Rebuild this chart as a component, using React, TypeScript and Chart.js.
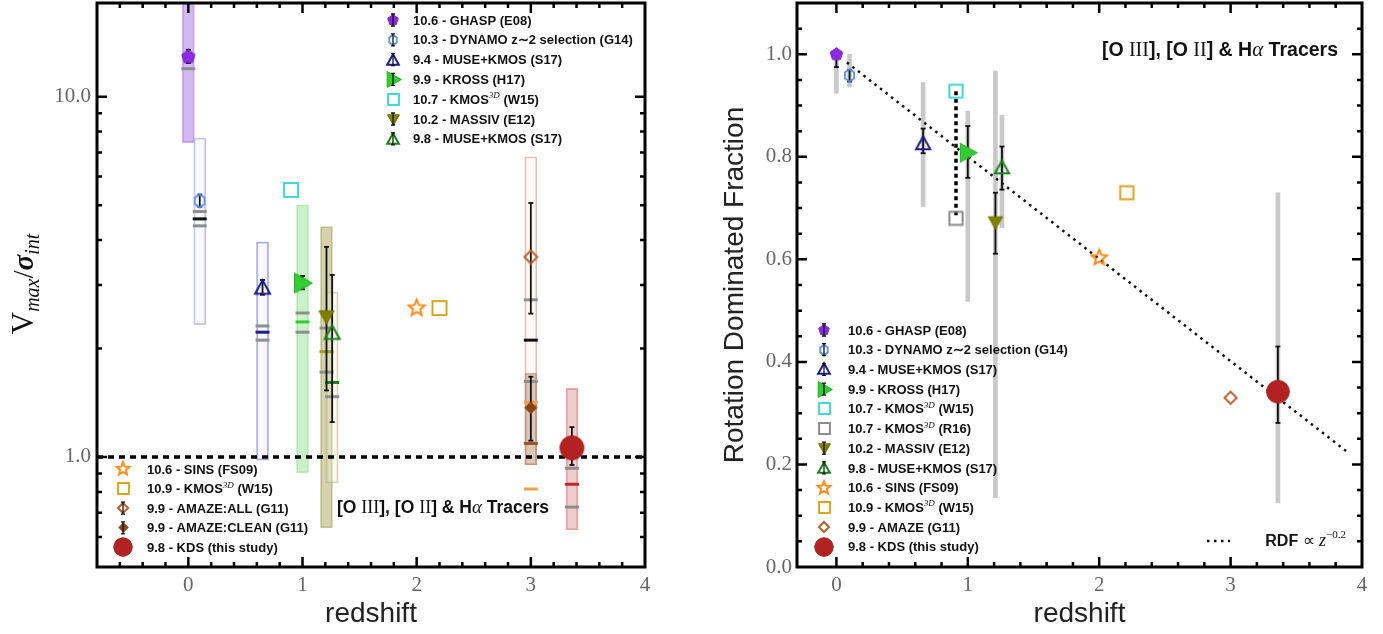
import React, { useEffect, useRef } from 'react';
import { Chart, registerables } from 'chart.js';

Chart.register(...registerables);

// ================= LEFT PANEL DATA : Vmax / sigma_int vs redshift =================
const leftPointKeys = ['GHASP', 'DYNAMO', 'MUSE94', 'KROSS', 'KMOS107', 'MASSIV', 'MUSE98', 'SINS', 'KMOS109', 'AMAZEALL', 'AMAZECLEAN', 'KDS'];
const leftPointZ = [0, 0.1, 0.65, 1.0, 0.9, 1.21, 1.26, 2.0, 2.2, 3.0, 3.0, 3.36];
const leftPointV = [12.9, 5.14, 2.95, 3.04, 5.51, 2.45, 2.21, 2.59, 2.59, 3.59, 1.37, 1.06];

const leftBandKeys = ['GHASP', 'DYNAMO', 'MUSE94', 'KROSS', 'MASSIV', 'MUSE98', 'AMAZEALL', 'AMAZECLEAN', 'KDS'];
const leftBandZ = [0, 0.1, 0.65, 1.0, 1.21, 1.26, 3.0, 3.0, 3.36];
const leftBandLo = [7.45, 2.33, 0.98, 0.903, 0.635, 0.847, 0.95, 0.95, 0.627];
const leftBandHi = [30, 7.68, 3.95, 5.01, 4.36, 2.87, 6.81, 1.71, 1.55];

const leftErrZ = [0, 0.1, 0.65, 1.0, 1.21, 1.26, 3.0, 3.0, 3.36];
const leftErrLo = [12.4, 4.95, 2.82, 2.92, 1.53, 1.25, 2.5, 1.11, 0.95];
const leftErrHi = [13.5, 5.35, 3.1, 3.18, 3.83, 3.2, 5.07, 1.67, 1.21];

const leftDashZ = [0, 0.1, 0.1, 0.1, 0.65, 0.65, 0.65, 1.0, 1.0, 1.0, 1.21, 1.21, 1.21, 1.26, 1.26, 3.0, 3.0, 3.0, 3.0, 3.0, 3.0, 3.36, 3.36, 3.36];
const leftDashV = [11.96, 4.8, 4.58, 4.38, 2.31, 2.22, 2.11, 2.51, 2.37, 2.22, 2.28, 1.96, 1.72, 1.61, 1.47, 2.73, 2.11, 1.62, 1.42, 1.09, 0.815, 0.93, 0.84, 0.726];
const leftDashKind = ['gray', 'gray', 'black', 'gray', 'gray', 'navy', 'gray', 'gray', 'green', 'gray', 'gray', 'olive', 'gray', 'dkgreen', 'gray', 'gray', 'black', 'gray', 'orange', 'brown', 'orange', 'gray', 'red', 'gray'];

const leftRefLineZ = [-0.8, 4];
const leftRefLineV = [1, 1];

const leftYTicks = [0.5, 0.6, 0.7, 0.8, 0.9, 1, 2, 3, 4, 5, 6, 7, 8, 9, 10];
const leftYTickLabels: Record<string, string> = { '1': '1.0', '10': '10.0' };

const leftLegendTopKeys = ['GHASP', 'DYNAMO', 'MUSE94', 'KROSS', 'KMOS107', 'MASSIV', 'MUSE98'];
const leftLegendTopLabels = ['10.6 - GHASP (E08)', '10.3 - DYNAMO z\u223C2 selection (G14)', '9.4 - MUSE+KMOS (S17)', '9.9 - KROSS (H17)', '10.7 - KMOS{s:3D} (W15)', '10.2 - MASSIV (E12)', '9.8 - MUSE+KMOS (S17)'];
const leftLegendBottomKeys = ['SINS', 'KMOS109', 'AMAZEALL', 'AMAZECLEAN', 'KDS'];
const leftLegendBottomLabels = ['10.6 - SINS (FS09)', '10.9 - KMOS{s:3D} (W15)', '9.9 - AMAZE:ALL (G11)', '9.9 - AMAZE:CLEAN (G11)', '9.8 - KDS (this study)'];

// ================= RIGHT PANEL DATA : Rotation dominated fraction =================
const rightPointKeys = ['GHASP', 'DYNAMO', 'MUSE94', 'KMOS107', 'KMOSR16', 'KROSS', 'MASSIV', 'MUSE98', 'SINS', 'KMOS109', 'AMAZE', 'KDS'];
const rightPointZ = [0, 0.1, 0.66, 0.91, 0.91, 1.0, 1.21, 1.26, 2.0, 2.21, 3.0, 3.36];
const rightPointF = [1.0, 0.959, 0.826, 0.928, 0.68, 0.808, 0.672, 0.779, 0.603, 0.73, 0.33, 0.342];

const rightRangeZ = [0, 0.1, 0.66, 1.0, 1.21, 1.26, 3.36];
const rightRangeLo = [0.924, 0.936, 0.703, 0.518, 0.135, 0.662, 0.125];
const rightRangeHi = [1.0, 1.0, 0.945, 0.889, 0.967, 0.881, 0.73];

const rightErrZ = [0, 0.1, 0.66, 1.0, 1.21, 1.26, 3.36];
const rightErrLo = [0.975, 0.947, 0.807, 0.759, 0.611, 0.736, 0.281];
const rightErrHi = [1.0, 0.969, 0.855, 0.86, 0.73, 0.82, 0.43];

const rightLinkZ = [0.91, 0.91];
const rightLinkF = [0.928, 0.68];

const rightFitZ = [0.08, 3.9];
const rightFitF = [0.984, 0.222];

const rightLegendKeys = ['GHASP', 'DYNAMO', 'MUSE94', 'KROSS', 'KMOS107', 'KMOSR16', 'MASSIV', 'MUSE98', 'SINS', 'KMOS109', 'AMAZE', 'KDS'];
const rightLegendLabels = ['10.6 - GHASP (E08)', '10.3 - DYNAMO z\u223C2 selection (G14)', '9.4 - MUSE+KMOS (S17)', '9.9 - KROSS (H17)', '10.7 - KMOS{s:3D} (W15)', '10.7 - KMOS{s:3D} (R16)', '10.2 - MASSIV (E12)', '9.8 - MUSE+KMOS (S17)', '10.6 - SINS (FS09)', '10.9 - KMOS{s:3D} (W15)', '9.9 - AMAZE (G11)', '9.8 - KDS (this study)'];

const tracerText = '[O {r:III}], [O {r:II}] & H{i:\u03B1} Tracers';
const fitText = 'RDF {r:\u221D} {i:z}{u:\u22120.2}';

// ================= STYLES =================
type MarkerDef = { shape: string; size: number; fill: string | null; stroke: string; lw: number };
const STYLE: Record<string, MarkerDef> = {
  GHASP: { shape: 'pentagon', size: 15, fill: '#8a2be2', stroke: '#7a22cc', lw: 1 },
  DYNAMO: { shape: 'hexagon', size: 15, fill: null, stroke: '#5b8fe0', lw: 1.8 },
  MUSE94: { shape: 'triUp', size: 17, fill: null, stroke: '#1c1c8c', lw: 2 },
  KROSS: { shape: 'triRight', size: 21, fill: '#33cc33', stroke: '#25b025', lw: 1 },
  KMOS107: { shape: 'square', size: 16, fill: null, stroke: '#40d8d0', lw: 2 },
  KMOSR16: { shape: 'square', size: 16, fill: null, stroke: '#8c8c8c', lw: 2 },
  MASSIV: { shape: 'triDown', size: 16, fill: '#808000', stroke: '#6e6e00', lw: 1 },
  MUSE98: { shape: 'triUp', size: 17, fill: null, stroke: '#1a7f1a', lw: 2 },
  SINS: { shape: 'star', size: 19, fill: null, stroke: '#ff8c1a', lw: 2 },
  KMOS109: { shape: 'square', size: 16, fill: null, stroke: '#d9a520', lw: 2 },
  AMAZEALL: { shape: 'diamond', size: 15, fill: null, stroke: '#b8612c', lw: 2 },
  AMAZE: { shape: 'diamond', size: 15, fill: null, stroke: '#b8612c', lw: 2 },
  AMAZECLEAN: { shape: 'diamond', size: 13, fill: '#8b4513', stroke: '#8b4513', lw: 1 },
  KDS: { shape: 'circle', size: 25, fill: '#b22222', stroke: '#a01e1e', lw: 1 },
};
const LEGEND_EB = new Set(['GHASP', 'DYNAMO', 'MUSE94', 'KROSS', 'MASSIV', 'MUSE98', 'AMAZEALL', 'AMAZECLEAN']);

const BAND: Record<string, { bg: string; border: string }> = {
  GHASP: { bg: 'rgba(160,100,225,0.45)', border: 'rgba(160,100,225,0.5)' },
  DYNAMO: { bg: 'rgba(225,225,250,0.25)', border: 'rgba(150,150,210,0.55)' },
  MUSE94: { bg: 'rgba(225,225,250,0.25)', border: 'rgba(110,110,190,0.6)' },
  KROSS: { bg: 'rgba(140,225,140,0.45)', border: 'rgba(140,225,140,0.6)' },
  MASSIV: { bg: 'rgba(145,140,45,0.38)', border: 'rgba(145,140,45,0.45)' },
  MUSE98: { bg: 'rgba(240,240,215,0.3)', border: 'rgba(170,170,120,0.55)' },
  AMAZEALL: { bg: 'rgba(250,235,225,0.35)', border: 'rgba(205,160,140,0.65)' },
  AMAZECLEAN: { bg: 'rgba(160,110,80,0.35)', border: 'rgba(160,110,80,0.45)' },
  KDS: { bg: 'rgba(205,90,90,0.3)', border: 'rgba(205,90,90,0.5)' },
};
const DASH: Record<string, string> = {
  gray: '#8e8e8e', black: '#111111', navy: '#1c1c8c', green: '#33cc33', olive: '#a0a010',
  dkgreen: '#1a7f1a', orange: '#f5a050', brown: '#a0522d', red: '#c0282c',
};

const SANS = '"Liberation Sans", Arial, sans-serif';
const SERIF = '"Liberation Serif", "Times New Roman", serif';

function makeMarker(m: MarkerDef, scale = 1): HTMLCanvasElement {
  const size = m.size * scale;
  const S = Math.ceil(size + 6);
  const c = document.createElement('canvas');
  c.width = S;
  c.height = S;
  const ctx = c.getContext('2d')!;
  ctx.translate(S / 2, S / 2);
  const lw = m.lw;
  const ri = size / 2 - lw / 2;
  const poly = (pts: number[][]) => {
    pts.forEach(([x, y], i) => (i ? ctx.lineTo(x, y) : ctx.moveTo(x, y)));
    ctx.closePath();
  };
  ctx.beginPath();
  const pts: number[][] = [];
  switch (m.shape) {
    case 'circle':
      ctx.arc(0, 0, ri, 0, Math.PI * 2);
      break;
    case 'square':
      ctx.rect(-ri, -ri, ri * 2, ri * 2);
      break;
    case 'diamond':
      poly([[0, -ri], [ri, 0], [0, ri], [-ri, 0]]);
      break;
    case 'triUp':
      poly([[0, -ri], [ri, ri * 0.8], [-ri, ri * 0.8]]);
      break;
    case 'triDown':
      poly([[0, ri], [ri, -ri * 0.8], [-ri, -ri * 0.8]]);
      break;
    case 'triRight':
      poly([[ri, 0], [-ri * 0.8, -ri], [-ri * 0.8, ri]]);
      break;
    case 'pentagon':
      for (let k = 0; k < 5; k++) {
        const a = -Math.PI / 2 + (k * 2 * Math.PI) / 5;
        pts.push([ri * Math.cos(a), ri * Math.sin(a)]);
      }
      poly(pts);
      break;
    case 'hexagon':
      for (let k = 0; k < 6; k++) {
        const a = -Math.PI / 2 + (k * 2 * Math.PI) / 6;
        pts.push([ri * 0.85 * Math.cos(a), ri * Math.sin(a)]);
      }
      poly(pts);
      break;
    case 'star':
      for (let k = 0; k < 10; k++) {
        const a = -Math.PI / 2 + (k * Math.PI) / 5;
        const rr = k % 2 === 0 ? ri : ri * 0.45;
        pts.push([rr * Math.cos(a), rr * Math.sin(a)]);
      }
      poly(pts);
      break;
  }
  if (m.fill) {
    ctx.fillStyle = m.fill;
    ctx.fill();
  }
  ctx.lineWidth = lw;
  ctx.lineJoin = 'miter';
  ctx.strokeStyle = m.stroke;
  ctx.stroke();
  return c;
}

type Seg = { t: string; f: string; dy: number };
function parseRich(text: string, B: number): Seg[] {
  const sans = `bold ${B}px ${SANS}`;
  const out: Seg[] = [];
  const re = /\{([rius]):([^}]*)\}/g;
  let last = 0;
  let m: RegExpExecArray | null;
  while ((m = re.exec(text))) {
    if (m.index > last) out.push({ t: text.slice(last, m.index), f: sans, dy: 0 });
    const k = m[1];
    const t = m[2];
    if (k === 'r') out.push({ t, f: `${Math.round(B * 1.05)}px ${SERIF}`, dy: 0 });
    else if (k === 'i') out.push({ t, f: `italic ${Math.round(B * 1.1)}px ${SERIF}`, dy: 0 });
    else if (k === 's') out.push({ t, f: `italic ${Math.round(B * 0.72)}px ${SERIF}`, dy: -B * 0.42 });
    else out.push({ t, f: `${Math.round(B * 0.7)}px ${SERIF}`, dy: -B * 0.48 });
    last = re.lastIndex;
  }
  if (last < text.length) out.push({ t: text.slice(last), f: sans, dy: 0 });
  return out;
}
function drawRich(ctx: CanvasRenderingContext2D, text: string, x: number, y: number, B: number, color: string, align = 'left') {
  const segs = parseRich(text, B);
  ctx.save();
  ctx.textBaseline = 'alphabetic';
  ctx.textAlign = 'left';
  ctx.fillStyle = color;
  let w = 0;
  segs.forEach((s) => {
    ctx.font = s.f;
    w += ctx.measureText(s.t).width;
  });
  let cx = align === 'right' ? x - w : align === 'center' ? x - w / 2 : x;
  segs.forEach((s) => {
    ctx.font = s.f;
    ctx.fillText(s.t, cx, y + s.dy);
    cx += ctx.measureText(s.t).width;
  });
  ctx.restore();
}

function drawLegend(ctx: CanvasRenderingContext2D, keys: string[], labels: string[], mx: number, tx: number, y0: number, dy: number) {
  keys.forEach((k, i) => {
    const y = y0 + i * dy;
    const img = makeMarker(STYLE[k], k === 'KDS' ? 0.78 : 0.8);
    ctx.drawImage(img, Math.round(mx - img.width / 2), Math.round(y - img.height / 2));
    if (LEGEND_EB.has(k)) {
      ctx.save();
      ctx.strokeStyle = '#111';
      ctx.lineWidth = 1.3;
      ctx.beginPath();
      ctx.moveTo(mx, y - 6);
      ctx.lineTo(mx, y + 6);
      ctx.moveTo(mx - 2, y - 6);
      ctx.lineTo(mx + 2, y - 6);
      ctx.moveTo(mx - 2, y + 6);
      ctx.lineTo(mx + 2, y + 6);
      ctx.stroke();
      ctx.restore();
    }
    drawRich(ctx, labels[i], tx, y + 4.6, 13, '#111');
  });
}

function segData(z: number[], lo: number[], hi: number[]) {
  const out: any[] = [];
  z.forEach((x, i) => {
    out.push({ x, y: lo[i] }, { x, y: hi[i] }, { x, y: null });
  });
  return out;
}
function capData(z: number[], lo: number[], hi: number[]) {
  const out: any[] = [];
  z.forEach((x, i) => {
    out.push({ x, y: lo[i] }, { x, y: hi[i] });
  });
  return out;
}

const isInt = (v: number) => Math.abs(v - Math.round(v)) < 1e-6;

function framePlugin(id: string, majorX: (v: number) => boolean, majorY: (v: number) => boolean) {
  return {
    id,
    afterDraw(chart: any) {
      const { ctx, chartArea: a, scales } = chart;
      ctx.save();
      ctx.strokeStyle = '#000';
      ctx.lineWidth = 2.5;
      ctx.beginPath();
      scales.x.ticks.forEach((t: any) => {
        const p = scales.x.getPixelForValue(t.value);
        if (p < a.left + 2 || p > a.right - 2) return;
        const L = majorX(t.value) ? 10 : 5;
        ctx.moveTo(p, a.bottom);
        ctx.lineTo(p, a.bottom - L);
        ctx.moveTo(p, a.top);
        ctx.lineTo(p, a.top + L);
      });
      scales.y.ticks.forEach((t: any) => {
        const p = scales.y.getPixelForValue(t.value);
        if (p < a.top + 2 || p > a.bottom - 2) return;
        const L = majorY(t.value) ? 10 : 5;
        ctx.moveTo(a.left, p);
        ctx.lineTo(a.left + L, p);
        ctx.moveTo(a.right, p);
        ctx.lineTo(a.right - L, p);
      });
      ctx.stroke();
      ctx.lineWidth = 3;
      ctx.strokeRect(a.left, a.top, a.right - a.left, a.bottom - a.top);
      ctx.restore();
    },
  };
}

const leftOverlay = {
  id: 'leftOverlay',
  afterDraw(chart: any) {
    const ctx: CanvasRenderingContext2D = chart.ctx;
    drawLegend(ctx, leftLegendTopKeys, leftLegendTopLabels, 393, 413, 20, 19.8);
    drawLegend(ctx, leftLegendBottomKeys, leftLegendBottomLabels, 123, 147, 469, 19.6);
    drawRich(ctx, tracerText, 337, 513, 17.5, '#111');
    // y-axis title: V_max / sigma_int
    ctx.save();
    ctx.translate(33, 284);
    ctx.rotate(-Math.PI / 2);
    ctx.fillStyle = '#111';
    ctx.textBaseline = 'alphabetic';
    const segs: Seg[] = [
      { t: 'V', f: `31px ${SERIF}`, dy: 0 },
      { t: 'max', f: `italic 20px ${SERIF}`, dy: 6 },
      { t: '/', f: `29px ${SERIF}`, dy: 0 },
      { t: '\u03C3', f: `bold italic 29px ${SERIF}`, dy: 0 },
      { t: 'int', f: `italic 20px ${SERIF}`, dy: 6 },
    ];
    let w = 0;
    segs.forEach((s) => { ctx.font = s.f; w += ctx.measureText(s.t).width; });
    let cx = -w / 2;
    segs.forEach((s) => { ctx.font = s.f; ctx.fillText(s.t, cx, s.dy); cx += ctx.measureText(s.t).width; });
    ctx.restore();
  },
};

const rightOverlay = {
  id: 'rightOverlay',
  afterDraw(chart: any) {
    const ctx: CanvasRenderingContext2D = chart.ctx;
    drawLegend(ctx, rightLegendKeys, rightLegendLabels, 134, 158, 330, 19.7);
    drawRich(ctx, tracerText, 648, 56, 19.5, '#111', 'right');
    drawRich(ctx, fitText, 656, 546, 16, '#111', 'right');
    ctx.save();
    ctx.strokeStyle = '#111';
    ctx.lineWidth = 2.5;
    ctx.setLineDash([2.5, 4.5]);
    ctx.beginPath();
    ctx.moveTo(517, 541);
    ctx.lineTo(540, 541);
    ctx.stroke();
    ctx.restore();
  },
};

function baseScales(xMin: number, xMax: number, yAxisWidth: number) {
  return {
    x: {
      type: 'linear',
      min: xMin,
      max: xMax,
      offset: false,
      grid: { display: false, drawTicks: false, offset: false },
      border: { display: false },
      ticks: {
        stepSize: 0.2,
        autoSkip: false,
        maxRotation: 0,
        padding: 6,
        color: '#666',
        font: { family: SERIF, size: 21 },
        callback: (v: number) => (isInt(v) ? String(Math.round(v)) : ''),
      },
      title: { display: true, text: 'redshift', color: '#222', font: { family: SANS, size: 28 }, padding: { top: 0, bottom: 3 } },
      afterFit: (s: any) => {
        s.height = 67;
        s.paddingLeft = 0;
        s.paddingRight = 0;
      },
    },
    yFit: (s: any) => {
      s.width = yAxisWidth;
      s.paddingTop = 0;
      s.paddingBottom = 0;
    },
  };
}

function leftConfig(): any {
  const markers = leftPointKeys.map((k) => makeMarker(STYLE[k]));
  const b = baseScales(-0.8, 4, 97);
  return {
    type: 'scatter',
    data: {
      datasets: [
        {
          type: 'bar',
          data: leftBandZ.map((z, i) => ({ x: z, y: [leftBandLo[i], leftBandHi[i]] })),
          backgroundColor: leftBandKeys.map((k) => BAND[k].bg),
          borderColor: leftBandKeys.map((k) => BAND[k].border),
          borderWidth: 1.2,
          borderSkipped: false,
          barThickness: 12,
          grouped: false,
          order: 10,
        },
        {
          type: 'line',
          data: leftRefLineZ.map((z, i) => ({ x: z, y: leftRefLineV[i] })),
          borderColor: '#000',
          borderWidth: 3.5,
          borderDash: [6, 5],
          pointRadius: 0,
          order: 8,
        },
        {
          type: 'scatter',
          data: leftDashZ.map((z, i) => ({ x: z, y: leftDashV[i] })),
          pointStyle: 'line',
          pointRadius: 7,
          pointBorderWidth: 3,
          borderColor: leftDashKind.map((k) => DASH[k]),
          pointBorderColor: leftDashKind.map((k) => DASH[k]),
          order: 6,
        },
        {
          type: 'line',
          data: segData(leftErrZ, leftErrLo, leftErrHi),
          borderColor: '#111',
          borderWidth: 1.8,
          pointRadius: 0,
          spanGaps: false,
          order: 4,
        },
        {
          type: 'scatter',
          data: capData(leftErrZ, leftErrLo, leftErrHi),
          pointStyle: 'line',
          pointRadius: 2.5,
          pointBorderWidth: 1.8,
          borderColor: '#111',
          pointBorderColor: '#111',
          order: 4,
        },
        {
          type: 'scatter',
          data: leftPointZ.map((z, i) => ({ x: z, y: leftPointV[i] })),
          pointStyle: markers,
          pointRadius: 6,
          order: 1,
        },
      ],
    },
    options: {
      responsive: false,
      animation: false,
      devicePixelRatio: 1,
      events: [],
      layout: { autoPadding: false, padding: { left: 0, top: 3, right: 45, bottom: 0 } },
      plugins: { legend: { display: false }, tooltip: { enabled: false } },
      scales: {
        x: b.x,
        y: {
          type: 'logarithmic',
          min: 0.495,
          max: 18.2,
          grid: { display: false, drawTicks: false },
          border: { display: false },
          afterBuildTicks: (s: any) => {
            s.ticks = leftYTicks.map((v) => ({ value: v }));
          },
          ticks: {
            autoSkip: false,
            padding: 6,
            color: '#666',
            font: { family: SERIF, size: 21 },
            callback: (v: number) => leftYTickLabels[String(v)] || '',
          },
          title: { display: false },
          afterFit: b.yFit,
        },
      },
    },
    plugins: [leftOverlay, framePlugin('frameL', isInt, (v: number) => v === 1 || v === 10)],
  };
}

function rightConfig(): any {
  const markers = rightPointKeys.map((k) => makeMarker(STYLE[k], 0.95));
  const b = baseScales(-0.3, 4, 107);
  const major02 = (v: number) => Math.abs(v * 5 - Math.round(v * 5)) < 1e-6;
  return {
    type: 'scatter',
    data: {
      datasets: [
        {
          type: 'bar',
          data: rightRangeZ.map((z, i) => ({ x: z, y: [rightRangeLo[i], rightRangeHi[i]] })),
          backgroundColor: '#c9c9c9',
          borderWidth: 0,
          barThickness: 4,
          grouped: false,
          order: 10,
        },
        {
          type: 'line',
          data: rightFitZ.map((z, i) => ({ x: z, y: rightFitF[i] })),
          borderColor: '#111',
          borderWidth: 2.5,
          borderDash: [2.5, 4.5],
          pointRadius: 0,
          order: 8,
        },
        {
          type: 'line',
          data: rightLinkZ.map((z, i) => ({ x: z, y: rightLinkF[i] })),
          borderColor: '#000',
          borderWidth: 3.5,
          borderDash: [4, 3.5],
          pointRadius: 0,
          order: 7,
        },
        {
          type: 'line',
          data: segData(rightErrZ, rightErrLo, rightErrHi),
          borderColor: '#111',
          borderWidth: 1.8,
          pointRadius: 0,
          spanGaps: false,
          order: 4,
        },
        {
          type: 'scatter',
          data: capData(rightErrZ, rightErrLo, rightErrHi),
          pointStyle: 'line',
          pointRadius: 2.5,
          pointBorderWidth: 1.8,
          borderColor: '#111',
          pointBorderColor: '#111',
          order: 4,
        },
        {
          type: 'scatter',
          data: rightPointZ.map((z, i) => ({ x: z, y: rightPointF[i] })),
          pointStyle: markers,
          pointRadius: 6,
          order: 1,
        },
      ],
    },
    options: {
      responsive: false,
      animation: false,
      devicePixelRatio: 1,
      events: [],
      layout: { autoPadding: false, padding: { left: 0, top: 3, right: 21, bottom: 0 } },
      plugins: { legend: { display: false }, tooltip: { enabled: false } },
      scales: {
        x: b.x,
        y: {
          type: 'linear',
          min: 0,
          max: 1.1,
          grid: { display: false, drawTicks: false },
          border: { display: false },
          ticks: {
            stepSize: 0.05,
            autoSkip: false,
            padding: 5,
            color: '#666',
            font: { family: SERIF, size: 21 },
            callback: (v: number) => (major02(v) ? v.toFixed(1) : ''),
          },
          title: { display: true, text: 'Rotation Dominated Fraction', color: '#222', font: { family: SANS, size: 28 }, padding: { top: 28, bottom: 0 } },
          afterFit: b.yFit,
        },
      },
    },
    plugins: [rightOverlay, framePlugin('frameR', isInt, major02)],
  };
}

export default function App() {
  const leftRef = useRef<HTMLCanvasElement>(null);
  const rightRef = useRef<HTMLCanvasElement>(null);
  useEffect(() => {
    const c1 = new Chart(leftRef.current!, leftConfig());
    const c2 = new Chart(rightRef.current!, rightConfig());
    return () => {
      c1.destroy();
      c2.destroy();
    };
  }, []);
  return (
    <div style={{ position: 'fixed', left: 0, top: 0, width: 1383, height: 634, background: '#fff' }}>
      <canvas ref={leftRef} width={690} height={634} style={{ position: 'absolute', left: 0, top: 0 }} />
      <canvas ref={rightRef} width={693} height={634} style={{ position: 'absolute', left: 690, top: 0 }} />
    </div>
  );
}
